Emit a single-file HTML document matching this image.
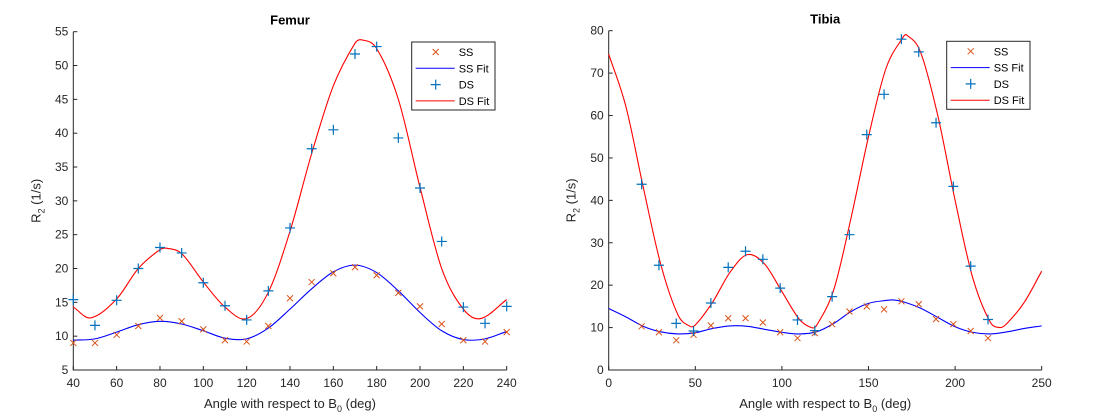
<!DOCTYPE html>
<html><head><meta charset="utf-8"><style>
body{margin:0;background:#fff;}
svg{display:block;font-family:"Liberation Sans",sans-serif;}
</style></head><body>
<svg id="fig" width="1110" height="420"></svg>
<script>
// ---- Femur data ----
const femurAngles=[40,50,60,70,80,90,100,110,120,130,140,150,160,170,180,190,200,210,220,230,240];
const femurSS=[9,9,10.2,11.5,12.7,12.2,11,9.4,9.2,11.5,15.6,18,19.3,20.2,19,16.4,14.4,11.8,9.4,9.2,10.6];
const femurDS=[15.4,11.6,15.3,20,23.1,22.3,17.9,14.5,12.4,16.7,26,37.7,40.5,51.7,52.8,39.3,31.9,24,14.3,11.9,14.4];
const femurFitX=[40,50,60,70,80,90,100,110,120,130,140,150,160,170,180,190,200,210,220,230,240];
const femurSSFit=[9.4,9.6,10.6,11.7,12.2,11.8,10.8,9.7,9.6,11.2,14,17,19.5,20.5,19.4,16.7,13.5,10.8,9.5,9.6,10.7];
const femurDSFitX=[40,48,60,70,80,83,90,100,110,120,130,140,150,160,170,173,180,190,200,210,220,228,240];
const femurDSFit=[14.3,12.7,15.5,20,22.8,23,22.2,18,14.3,12.6,16.5,25.5,37,47,53.3,53.8,52.5,45,32,20,14,12.6,15.4];
const femurXTicks=[40,60,80,100,120,140,160,180,200,220,240];
const femurYTicks=[5,10,15,20,25,30,35,40,45,50,55];
// ---- Tibia data ----
const tibiaAngles=[19,29,39,49,59,69,79,89,99,109,119,129,139,149,159,169,179,189,199,209,219];
const tibiaSS=[10.3,8.9,7,8.3,10.5,12.2,12.2,11.2,8.9,7.5,8.7,10.8,13.8,15,14.3,16.2,15.5,12,10.8,9.2,7.5];
const tibiaDS=[43.8,24.7,11,9.2,15.8,24.2,28,26.1,19.3,11.8,9.3,17.3,31.9,55.5,65,78,75,58.3,43.3,24.5,11.9];
const tibiaSSFitX=[0,10,20,30,40,50,60,70,80,90,100,110,120,130,140,150,160,165,170,180,190,200,210,220,230,240,250];
const tibiaSSFit=[14.5,12.5,10.3,9,8.5,8.8,9.8,10.4,10.3,9.6,8.9,8.5,9,11,13.8,15.7,16.4,16.5,16.1,14.6,12.4,10.2,8.9,8.5,9,9.8,10.4];
const tibiaDSFitX=[0,10,20,30,40,47,50,60,70,80,90,100,110,117,120,130,140,150,160,170,172,180,190,200,210,220,226,230,240,250];
const tibiaDSFit=[74.5,62,43,25,13,10.3,10.6,16,23,27.2,25,18.5,12,10,10.5,19,36,55,71,78.5,79,75,60,40,22,11.5,10,11,16,23.3];
const tibiaXTicks=[0,50,100,150,200,250];
const tibiaYTicks=[0,10,20,30,40,50,60,70,80];

const NS="http://www.w3.org/2000/svg";
const svg=document.getElementById('fig');
function mk(tag,attrs,parent){const e=document.createElementNS(NS,tag);for(const k in attrs)e.setAttribute(k,attrs[k]);(parent||svg).appendChild(e);return e;}
function spline(xs,ys,sx,sy){
  const n=xs.length;
  const m=xs.map((x,i)=>{
    if(i==0) return (ys[1]-ys[0])/(xs[1]-xs[0]);
    if(i==n-1) return (ys[n-1]-ys[n-2])/(xs[n-1]-xs[n-2]);
    return (ys[i+1]-ys[i-1])/(xs[i+1]-xs[i-1]);
  });
  let d='M'+sx(xs[0]).toFixed(2)+','+sy(ys[0]).toFixed(2);
  for(let i=0;i<n-1;i++){
    const h=xs[i+1]-xs[i];
    const c1x=xs[i]+h/3,c1y=ys[i]+m[i]*h/3;
    const c2x=xs[i+1]-h/3,c2y=ys[i+1]-m[i+1]*h/3;
    d+=` C${sx(c1x).toFixed(2)},${sy(c1y).toFixed(2)} ${sx(c2x).toFixed(2)},${sy(c2y).toFixed(2)} ${sx(xs[i+1]).toFixed(2)},${sy(ys[i+1]).toFixed(2)}`;
  }
  return d;
}
function panel(cfg){
  const g=mk('g',{});
  
  
  const sx=v=>cfg.x0+(v-cfg.xmin)/(cfg.xmax-cfg.xmin)*(cfg.x1-cfg.x0);
  const sy=v=>cfg.y1-(v-cfg.ymin)/(cfg.ymax-cfg.ymin)*(cfg.y1-cfg.y0);
  const ax=mk('path',{d:`M${cfg.x0},${cfg.y0} V${cfg.y1} H${cfg.x1}`,fill:'none',stroke:'#262626','stroke-width':1},g);
  
  
  cfg.xticks.forEach(t=>{
    const x=sx(t);
    mk('line',{x1:x,x2:x,y1:cfg.y1,y2:cfg.y1-4,stroke:'#262626'},g);
    const tx=mk('text',{x:x,y:cfg.y1+17,'text-anchor':'middle','font-size':12,fill:'#262626'},g);
    tx.textContent=t;
    
    
  });
  cfg.yticks.forEach(t=>{
    const y=sy(t);
    mk('line',{x1:cfg.x0,x2:cfg.x0+4,y1:y,y2:y,stroke:'#262626'},g);
    const tx=mk('text',{x:cfg.x0-5,y:y+4,'text-anchor':'end','font-size':12,fill:'#262626'},g);
    tx.textContent=t;
    
    
  });
  const ti=mk('text',{x:(cfg.x0+cfg.x1)/2,y:cfg.y0-7,'text-anchor':'middle','font-size':13,'font-weight':'bold',fill:'#000'},g);
  ti.textContent=cfg.title;
  
  
  const xl=mk('text',{x:(cfg.x0+cfg.x1)/2,y:cfg.y1+38,'text-anchor':'middle','font-size':13,fill:'#262626'},g);
  xl.innerHTML='Angle with respect to B<tspan font-size="9" dy="4">0</tspan><tspan dy="-4"> (deg)</tspan>';
  
  
  const yx=cfg.x0-33, yy=(cfg.y0+cfg.y1)/2;
  const yl=mk('text',{x:yx,y:yy,'text-anchor':'middle','font-size':13,fill:'#262626',transform:`rotate(-90 ${yx} ${yy})`},g);
  yl.innerHTML='R<tspan font-size="9" dy="4">2</tspan><tspan dy="-4"> (1/s)</tspan>';
  
  
  const f1=mk('path',{d:spline(cfg.ssFitX,cfg.ssFit,sx,sy),fill:'none',stroke:'#0000ff','stroke-width':1.1},g);
  
  
  const f2=mk('path',{d:spline(cfg.dsFitX,cfg.dsFit,sx,sy),fill:'none',stroke:'#ff0000','stroke-width':1.1},g);
  
  
  cfg.angles.forEach((a,i)=>{
    const x=sx(a),y=sy(cfg.ss[i]);
    const mm=mk('path',{d:`M${x-3},${y-3}L${x+3},${y+3}M${x-3},${y+3}L${x+3},${y-3}`,stroke:'#D95319','stroke-width':1},g);
    
    
  });
  cfg.angles.forEach((a,i)=>{
    const x=sx(a),y=sy(cfg.ds[i]);
    const mm=mk('path',{d:`M${x-5},${y}H${x+5}M${x},${y-5}V${y+5}`,stroke:'#0072BD','stroke-width':1.2},g);
    
    
  });
  const L=cfg.leg;
  const lg=mk('g',{},g);
  
  
  mk('rect',{x:L[0],y:L[1],width:L[2],height:L[3],fill:'#fff',stroke:'#262626'},lg);
  const labels=['SS','SS Fit','DS','DS Fit'];
  labels.forEach((lab,i)=>{
    const cy=L[1]+10+i*16.3, cx=L[0]+24;
    if(i==0) mk('path',{d:`M${cx-3},${cy-3}L${cx+3},${cy+3}M${cx-3},${cy+3}L${cx+3},${cy-3}`,stroke:'#D95319'},lg);
    if(i==2) mk('path',{d:`M${cx-5},${cy}H${cx+5}M${cx},${cy-5}V${cy+5}`,stroke:'#0072BD','stroke-width':1.2},lg);
    if(i==1) mk('line',{x1:L[0]+4,x2:L[0]+43,y1:cy,y2:cy,stroke:'#0000ff'},lg);
    if(i==3) mk('line',{x1:L[0]+4,x2:L[0]+43,y1:cy,y2:cy,stroke:'#ff0000'},lg);
    const t=mk('text',{x:L[0]+47,y:cy+4,'font-size':11,fill:'#000'},lg);
    t.textContent=lab;
    
    
  });
}
panel({name:'femur',title:'Femur',x0:73.3,x1:506.7,y0:31.7,y1:370,xmin:40,xmax:240,ymin:5,ymax:55,
  xticks:femurXTicks,yticks:femurYTicks,angles:femurAngles,ss:femurSS,ds:femurDS,
  ssFitX:femurFitX,ssFit:femurSSFit,dsFitX:femurDSFitX,dsFit:femurDSFit,leg:[411.7,42,83.3,68]});
panel({name:'tibia',title:'Tibia',x0:608.7,x1:1041.7,y0:30.7,y1:370,xmin:0,xmax:250,ymin:0,ymax:80,
  xticks:tibiaXTicks,yticks:tibiaYTicks,angles:tibiaAngles,ss:tibiaSS,ds:tibiaDS,
  ssFitX:tibiaSSFitX,ssFit:tibiaSSFit,dsFitX:tibiaDSFitX,dsFit:tibiaDSFit,leg:[946.7,41.3,83.3,68]});
</script>
</body></html>
